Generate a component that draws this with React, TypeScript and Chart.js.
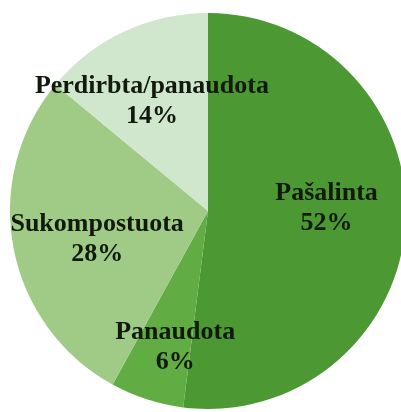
import React, { useEffect, useRef } from "react";
import { Chart, registerables } from "chart.js";

Chart.register(...registerables);

const categories = ["Pašalinta", "Panaudota", "Sukompostuota", "Perdirbta/panaudota"];
const shares = [52, 6, 28, 14];
const sliceColors = ["#4c9832", "#62ac44", "#a0cb87", "#d0e6cd"];
// label placement: fraction of radius along slice mid-angle, plus nudges
const labelRadius = [0.6, 0.7, 0.57, 0.63];
const labelNudgeX = [0, 10, 0, -3];
const labelNudgeY = [-10, 4, 7, 3];

const labelPlugin = {
  id: "sliceLabels",
  afterDatasetsDraw(chart: any) {
    const ctx = chart.ctx;
    const meta = chart.getDatasetMeta(0);
    ctx.save();
    ctx.font = "bold 26px 'Liberation Serif', 'Times New Roman', serif";
    ctx.fillStyle = "#121a0e";
    ctx.textAlign = "center";
    ctx.textBaseline = "middle";
    meta.data.forEach((arc: any, i: number) => {
      const p = arc.getProps(["x", "y", "startAngle", "endAngle", "outerRadius"], true);
      const mid = (p.startAngle + p.endAngle) / 2;
      const r = p.outerRadius * labelRadius[i];
      const cx = p.x + Math.cos(mid) * r + labelNudgeX[i];
      const cy = p.y + Math.sin(mid) * r + labelNudgeY[i];
      ctx.fillText(categories[i], cx, cy - 15);
      ctx.fillText(shares[i] + "%", cx, cy + 15);
    });
    ctx.restore();
  },
};

export default function App() {
  const ref = useRef<HTMLCanvasElement>(null);
  useEffect(() => {
    if (!ref.current) return;
    const chart = new Chart(ref.current, {
      type: "pie",
      data: {
        labels: categories,
        datasets: [
          {
            data: shares,
            backgroundColor: sliceColors,
            borderWidth: 0,
          },
        ],
      },
      options: {
        animation: false,
        responsive: true,
        maintainAspectRatio: false,
        layout: { padding: 0 },
        plugins: {
          legend: { display: false },
          tooltip: { enabled: false },
        },
      },
      plugins: [labelPlugin],
    });
    return () => chart.destroy();
  }, []);
  return (
    <div
      style={{
        position: "fixed",
        left: 0,
        top: 0,
        width: 401,
        height: 412,
        overflow: "hidden",
        background: "#ffffff",
      }}
    >
      <div style={{ position: "absolute", left: 10, top: 13, width: 396, height: 396 }}>
        <canvas ref={ref} />
      </div>
    </div>
  );
}
